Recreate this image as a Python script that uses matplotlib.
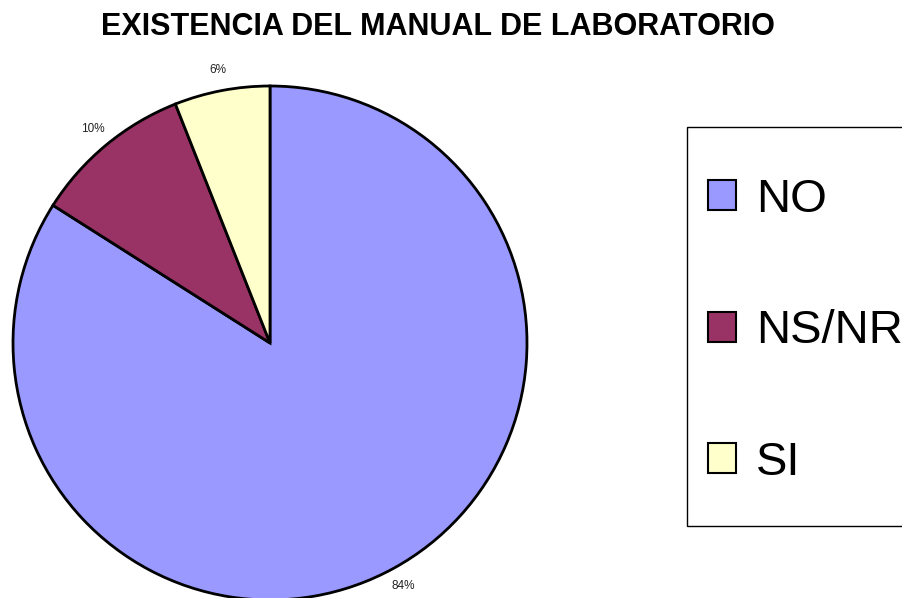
import matplotlib
matplotlib.use("Agg")
import matplotlib.pyplot as plt
from matplotlib.patches import Rectangle

categories = ["NO", "NS/NR", "SI"]
values = [84, 10, 6]
colors = ["#9999FF", "#993366", "#FFFFCC"]
title = "EXISTENCIA DEL MANUAL DE LABORATORIO"

W, H = 902, 598
fig = plt.figure(figsize=(W / 100, H / 100), dpi=100)
fig.patch.set_facecolor("white")
plt.rcParams['font.family'] = ['Liberation Sans', 'DejaVu Sans']

ax = fig.add_axes([0, 0, 1, 1])
cx, cy, r = 270, H - 343, 257
wedges, texts, autotexts = ax.pie(
    values, colors=colors, startangle=90, counterclock=False,
    center=(cx, cy), radius=r, autopct='%1.0f%%', pctdistance=1.08,
    wedgeprops=dict(edgecolor='black', linewidth=2),
    textprops=dict(fontsize=8.5, color='#222222'))
ax.set_xlim(0, W)
ax.set_ylim(0, H)
ax.set_aspect('auto')
ax.axis('off')

fig.text(438 / W, 1 - 27 / H, title, ha='center', va='center',
         fontsize=22, fontweight='bold', color='black')

# legend frame (extends past right edge as in the reference)
fig.add_artist(Rectangle((687 / W, 1 - 526 / H), 230 / W, 399 / H,
                         transform=fig.transFigure, facecolor='white',
                         edgecolor='black', linewidth=1.0, zorder=1))

handles = [Rectangle((0, 0), 1, 1, facecolor=c, edgecolor='black', linewidth=1.5)
           for c in colors]
leg = fig.legend(handles, categories, loc='upper left',
                 bbox_to_anchor=(708 / W, 1 - 178 / H), borderaxespad=0,
                 fontsize=34, frameon=False, labelspacing=1.85,
                 handlelength=0.6, handleheight=0.6, handletextpad=0.41,
                 borderpad=0)
leg.set_zorder(2)

fig.savefig("out.png", dpi=100)
